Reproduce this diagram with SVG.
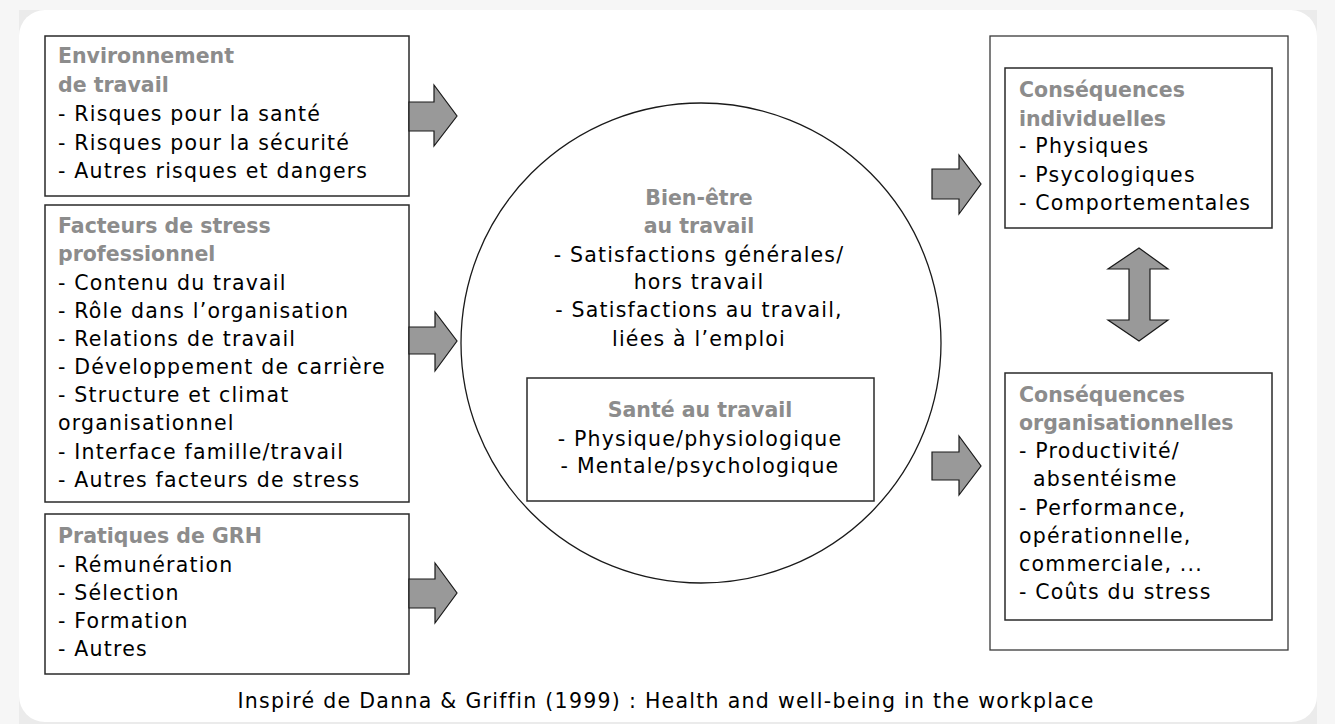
<svg xmlns="http://www.w3.org/2000/svg" width="1335" height="724" viewBox="0 0 1335 724">
  <style>
    .box { fill: #ffffff; stroke: #2a2a2a; stroke-width: 1.5; }
    .frame { fill: #ffffff; stroke: #3a3a3a; stroke-width: 1.3; }
    .ring { fill: #ffffff; stroke: #1a1a1a; stroke-width: 1.3; }
    .arrow { fill: #999999; stroke: #1a1a1a; stroke-width: 1.2; stroke-linejoin: miter; }
    text { font-family: "DejaVu Sans", "Liberation Sans", sans-serif; font-size: 20.5px; fill: #000000; letter-spacing: 1.2px; }
    .hd { font-weight: bold; fill: #8c8c8c; letter-spacing: 0px; }
    .mid { text-anchor: middle; }
  </style>

  <!-- page background and rounded panel -->
  <rect x="0" y="0" width="1335" height="724" fill="#f6f6f6"/>
  <rect x="19" y="10" width="1298" height="714" fill="#ebebeb"/>
  <rect x="19" y="10" width="1298" height="712" rx="26" ry="26" fill="#ffffff"/>

  <!-- left column -->
  <g id="environnement">
    <rect class="box" x="45" y="36" width="364" height="160"/>
    <text x="58" y="63" class="hd">Environnement</text>
    <text x="58" y="92" class="hd">de travail</text>
    <text x="58" y="121">- Risques pour la santé</text>
    <text x="58" y="150">- Risques pour la sécurité</text>
    <text x="58" y="178">- Autres risques et dangers</text>
  </g>

  <g id="facteurs-stress">
    <rect class="box" x="45" y="205" width="364" height="297"/>
    <text x="58" y="233" class="hd">Facteurs de stress</text>
    <text x="58" y="261" class="hd">professionnel</text>
    <text x="58" y="290">- Contenu du travail</text>
    <text x="58" y="318">- Rôle dans l’organisation</text>
    <text x="58" y="346">- Relations de travail</text>
    <text x="58" y="374">- Développement de carrière</text>
    <text x="58" y="402">- Structure et climat</text>
    <text x="58" y="430">organisationnel</text>
    <text x="58" y="459">- Interface famille/travail</text>
    <text x="58" y="487">- Autres facteurs de stress</text>
  </g>

  <g id="pratiques-grh">
    <rect class="box" x="45" y="514" width="364" height="160"/>
    <text x="58" y="543" class="hd">Pratiques de GRH</text>
    <text x="58" y="572">- Rémunération</text>
    <text x="58" y="600">- Sélection</text>
    <text x="58" y="628">- Formation</text>
    <text x="58" y="656">- Autres</text>
  </g>

  <!-- centre -->
  <g id="bien-etre">
    <circle class="ring" cx="701" cy="343" r="240"/>
    <text x="699" y="205" class="hd mid">Bien-être</text>
    <text x="699" y="233" class="hd mid">au travail</text>
    <text x="699" y="262" class="mid">- Satisfactions générales/</text>
    <text x="699" y="289" class="mid">hors travail</text>
    <text x="699" y="317" class="mid">- Satisfactions au travail,</text>
    <text x="699" y="346" class="mid">liées à l’emploi</text>
  </g>

  <g id="sante">
    <rect class="box" x="527" y="378" width="347" height="123"/>
    <text x="700" y="417" class="hd mid">Santé au travail</text>
    <text x="700" y="446" class="mid">- Physique/physiologique</text>
    <text x="700" y="473" class="mid">- Mentale/psychologique</text>
  </g>

  <!-- right column -->
  <g id="consequences">
    <rect class="frame" x="990" y="36" width="298" height="614"/>
  </g>

  <g id="consequences-individuelles">
    <rect class="box" x="1005" y="68" width="267" height="160"/>
    <text x="1019" y="97" class="hd">Conséquences</text>
    <text x="1019" y="126" class="hd">individuelles</text>
    <text x="1019" y="153">- Physiques</text>
    <text x="1019" y="182">- Psycologiques</text>
    <text x="1019" y="210">- Comportementales</text>
  </g>

  <g id="consequences-organisationnelles">
    <rect class="box" x="1005" y="373" width="267" height="247"/>
    <text x="1019" y="402" class="hd">Conséquences</text>
    <text x="1019" y="430" class="hd">organisationnelles</text>
    <text x="1019" y="458">- Productivité/</text>
    <text x="1033" y="486">absentéisme</text>
    <text x="1019" y="515">- Performance,</text>
    <text x="1019" y="543">opérationnelle,</text>
    <text x="1019" y="571">commerciale, ...</text>
    <text x="1019" y="599">- Coûts du stress</text>
  </g>

  <!-- block arrows -->
  <g id="connectors">
    <polygon class="arrow" points="409,102 434,102 434,85 457,116 434,146 434,131 409,131"/>
    <polygon class="arrow" points="409,327 435,327 435,312 457,341 435,371 435,354 409,354"/>
    <polygon class="arrow" points="409,579 435,579 435,563 457,593 435,623 435,608 409,608"/>
    <polygon class="arrow" points="932,169 959,169 959,155 981,184 959,214 959,199 932,199"/>
    <polygon class="arrow" points="932,452 959,452 959,436 981,466 959,495 959,480 932,480"/>
    <polygon class="arrow" points="1139,248 1168,269 1150,269 1150,320 1168,320 1139,341 1108,320 1129,320 1129,269 1108,269"/>
  </g>

  <text x="666" y="708" class="mid" textLength="857" lengthAdjust="spacing">Inspiré de Danna &amp; Griffin (1999) : Health and well-being in the workplace</text>
</svg>
